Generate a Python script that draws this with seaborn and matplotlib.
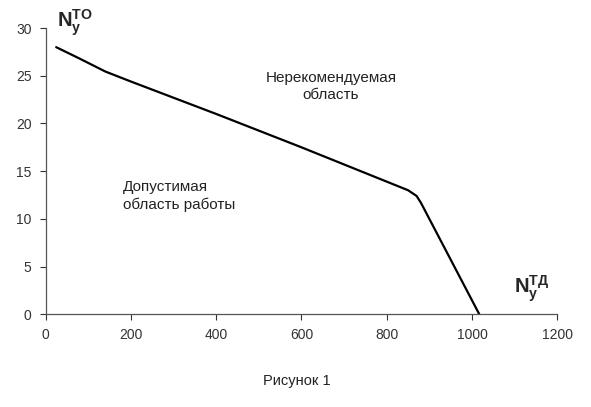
import pandas as pd
import seaborn as sns
import matplotlib.pyplot as plt

# boundary curve
n_td = [25, 80, 140, 200, 400, 600, 800, 850, 870, 880, 1017]
n_to = [28.0, 26.8, 25.45, 24.4, 21.0, 17.5, 13.9, 13.0, 12.4, 11.7, 0.0]

x_ticks = [0, 200, 400, 600, 800, 1000, 1200]
y_ticks = [0, 5, 10, 15, 20, 25, 30]

df = pd.DataFrame({"td": n_td, "to": n_to})

sns.set_style("ticks")
plt.rcParams["font.family"] = ["Liberation Sans", "DejaVu Sans"]
plt.rcParams["mathtext.fontset"] = "custom"
plt.rcParams["mathtext.rm"] = "Liberation Sans"
plt.rcParams["mathtext.bf"] = "Liberation Sans:bold"
plt.rcParams["mathtext.it"] = "Liberation Sans:italic"

fig = plt.figure(figsize=(5.91, 4.07), dpi=100)
ax = fig.add_axes([0.077, 0.228, 0.866, 0.703])

sns.lineplot(data=df, x="td", y="to", sort=False, color="black", linewidth=1.6, ax=ax)

ax.set_xlim(0, 1200)
ax.set_ylim(0, 30)
ax.set_xticks(x_ticks)
ax.set_yticks(y_ticks)
ax.set_xlabel("")
ax.set_ylabel("")
ax.tick_params(axis="both", labelsize=10, colors="#333333", length=4, width=0.8, pad=6)
for s in ["left", "bottom"]:
    ax.spines[s].set_color("#555555")
    ax.spines[s].set_linewidth(0.9)
sns.despine(ax=ax)

ax.text(669, 23.9, "Нерекомендуемая\nобласть", ha="center", va="center",
        fontsize=11, color="#222222", linespacing=1.3)
ax.text(181, 12.35, "Допустимая\nобласть работы", ha="left", va="center",
        fontsize=11, color="#222222", linespacing=1.3)

fig.text(0.096, 0.945, r"$\mathbf{N_у^{ТО}}$", fontsize=14.5, ha="left", va="center")
fig.text(0.87, 0.29, r"$\mathbf{N_у^{ТД}}$", fontsize=14.5, ha="left", va="center")

fig.text(0.503, 0.065, "Рисунок 1", ha="center", va="center", fontsize=10.5, color="#222222")

fig.savefig("out.png", dpi=100)
